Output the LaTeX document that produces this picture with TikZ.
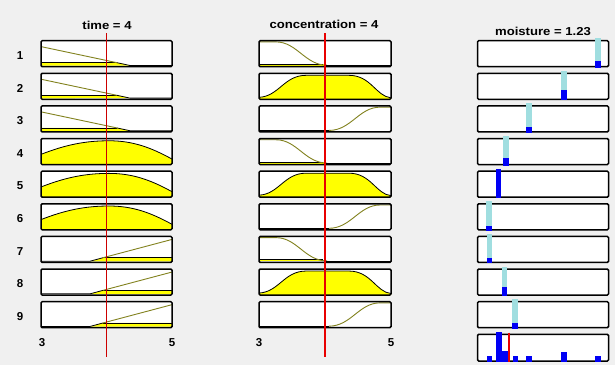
\documentclass[tikz,border=0pt]{standalone}
\usepackage{fontspec}
\setmainfont{Liberation Sans}
\newfontfamily\titlefont[FakeStretch=1.14]{Liberation Sans}
\definecolor{bg}{RGB}{240,240,240}
\definecolor{olivemf}{RGB}{130,130,30}
\definecolor{mfyellow}{RGB}{255,255,0}
\definecolor{barcyan}{RGB}{160,222,224}
\definecolor{barblue}{RGB}{0,0,245}
\definecolor{cutred}{RGB}{232,0,0}
\definecolor{cutdark}{RGB}{205,0,0}
\begin{document}
\begin{tikzpicture}[x=1pt,y=-1pt,
  boxfill/.style={fill=white,rounded corners=1.2pt},
  boxline/.style={draw=black,line width=1.5pt,rounded corners=1.2pt},
  mfline/.style={draw=olivemf,line width=0.9pt},
  edgeline/.style={draw=black,line width=0.5pt},
  zeroline/.style={draw=black,line width=0.8pt},
  title/.style={font=\titlefont\bfseries\fontsize{11.5}{12}\selectfont,inner sep=0pt},
  lbl/.style={font=\bfseries\fontsize{11.5}{12}\selectfont,inner sep=0pt},
  cyanbar/.style={fill=barcyan},
  bluebar/.style={fill=barblue}]
\fill[bg] (0,0) rectangle (615,365);
\useasboundingbox (0,0) rectangle (615,365);

% white box interiors
\foreach \k in {1,...,9}{
  \pgfmathsetmacro\t{40.7+32.62*(\k-1)}
  \fill[boxfill] (41,\t) rectangle (172,\t+26);
  \fill[boxfill] (259,\t) rectangle (391,\t+26);
  \fill[boxfill] (477.5,\t) rectangle (608.5,\t+26);
  \node[lbl] (r\k) at (20,\t+14.7) {\k};
}
\fill[boxfill] (477.5,334.3) rectangle (608.5,361);

% column 1: time
\foreach \k in {1,2,3}{
  \pgfmathsetmacro\t{40.7+32.62*(\k-1)}
  \begin{scope}[shift={(41,\t)}]
    \fill[mfyellow] (0.5,25) -- (0.5,22) -- (76,22) -- (89,24.8) -- cycle;
    \draw[edgeline] (0.5,22) -- (76,22);
    \draw[mfline] (0.5,6) -- (76,22);
    \draw[zeroline] (76,22) -- (89,24.8) -- (131,24.8);
  \end{scope}
}
\foreach \k in {4,5,6}{
  \pgfmathsetmacro\t{40.7+32.62*(\k-1)}
  \begin{scope}[shift={(41,\t)}]
    \fill[mfyellow] (0,15.8) .. controls (25,6) and (45,2.2) .. (68,2.2)
      .. controls (92,2.2) and (110,9) .. (131,20.5) -- (131,26) -- (0,26) -- cycle;
    \draw[zeroline] (0,15.8) .. controls (25,6) and (45,2.2) .. (68,2.2)
      .. controls (92,2.2) and (110,9) .. (131,20.5);
  \end{scope}
}
\foreach \k in {7,8,9}{
  \pgfmathsetmacro\t{40.7+32.62*(\k-1)}
  \begin{scope}[shift={(41,\t)}]
    \fill[mfyellow] (49,25) -- (62,21.3) -- (131,21.3) -- (131,25) -- cycle;
    \draw[edgeline] (62,21.3) -- (131,21.3);
    \draw[zeroline] (0,24.8) -- (49,24.8) -- (62,21.3);
    \draw[mfline] (62,21.3) -- (131,3);
  \end{scope}
}

% column 2: concentration
\foreach \k in {1,4,7}{
  \pgfmathsetmacro\t{40.7+32.62*(\k-1)}
  \begin{scope}[shift={(259,\t)}]
    \fill[mfyellow] (0.5,23.3) rectangle (66,25);
    \draw[edgeline] (0.5,23.3) -- (64,23.3);
    \draw[mfline] (0.5,1.2) -- (17,1.2) .. controls (38,1.2) and (46,24.5) .. (68,24.5);
    \draw[zeroline] (66,24.8) -- (132,24.8);
  \end{scope}
}
\foreach \k in {2,5,8}{
  \pgfmathsetmacro\t{40.7+32.62*(\k-1)}
  \begin{scope}[shift={(259,\t)}]
    \fill[mfyellow] (0,24) .. controls (20,23) and (25,2) .. (47,2) -- (90,2)
      .. controls (112,2) and (117,23) .. (132,24.5) -- (132,26) -- (0,26) -- cycle;
    \draw[zeroline] (0,24) .. controls (20,23) and (25,2) .. (47,2) -- (90,2)
      .. controls (112,2) and (117,23) .. (132,24.5);
  \end{scope}
}
\foreach \k in {3,6,9}{
  \pgfmathsetmacro\t{40.7+32.62*(\k-1)}
  \begin{scope}[shift={(259,\t)}]
    \draw[zeroline] (0,24.8) -- (70,24.8);
    \draw[mfline] (70,24.5) .. controls (92,24.5) and (100,1.2) .. (121,1.2) -- (131.5,1.2);
  \end{scope}
}

% box borders
\foreach \k in {1,...,9}{
  \pgfmathsetmacro\t{40.7+32.62*(\k-1)}
  \draw[boxline] (41,\t) rectangle (172,\t+26);
  \draw[boxline] (259,\t) rectangle (391,\t+26);
  \draw[boxline] (477.5,\t) rectangle (608.5,\t+26);
}
\draw[boxline] (477.5,334.3) rectangle (608.5,361);

% column 3: moisture rule outputs
\foreach \k/\x/\b in {1/597.7/20.3, 2/563.7/16.7, 3/529/20.8, 4/505.7/19.7,
                      5/498.3/-2, 6/489/22.2, 7/489.3/21.3, 8/504.3/17.7, 9/515/21.6}{
  \pgfmathsetmacro\t{40.7+32.62*(\k-1)}
  \fill[cyanbar] (\x-2.8,\t-2.5) rectangle (\x+2.8,\t+\b);
  \fill[bluebar] (\x-2.8,\t+\b) rectangle (\x+2.8,\t+27);
}
% aggregated output
\fill[bluebar] (486.5,355.7) rectangle (492.2,362);
\fill[bluebar] (496,351.3) rectangle (508,362);
\fill[bluebar] (496,332.3) rectangle (501.8,362);
\fill[bluebar] (512.8,356.3) rectangle (518.4,362);
\fill[bluebar] (526.2,356) rectangle (531.8,362);
\fill[bluebar] (561.2,352) rectangle (566.8,362);
\fill[bluebar] (595,356) rectangle (600.6,362);
\draw[cutred,line width=1.8pt] (509,332.7) -- (509,361.5);

% input cut lines
\draw[cutdark,line width=1pt] (106.5,33) -- (106.5,357);
\draw[cutred,line width=1.4pt] (325,33) -- (325,357);

% titles and axis labels
\node[title] (t1) at (107,25) {time = 4};
\node[title] (t2) at (324,24.5) {concentration = 4};
\node[title] (t3) at (543,31.5) {moisture = 1.23};
\node[lbl] (a1) at (42,343) {3};
\node[lbl] (a2) at (172,343) {5};
\node[lbl] (a3) at (259,343) {3};
\node[lbl] (a4) at (391,343) {5};
\end{tikzpicture}
\end{document}
